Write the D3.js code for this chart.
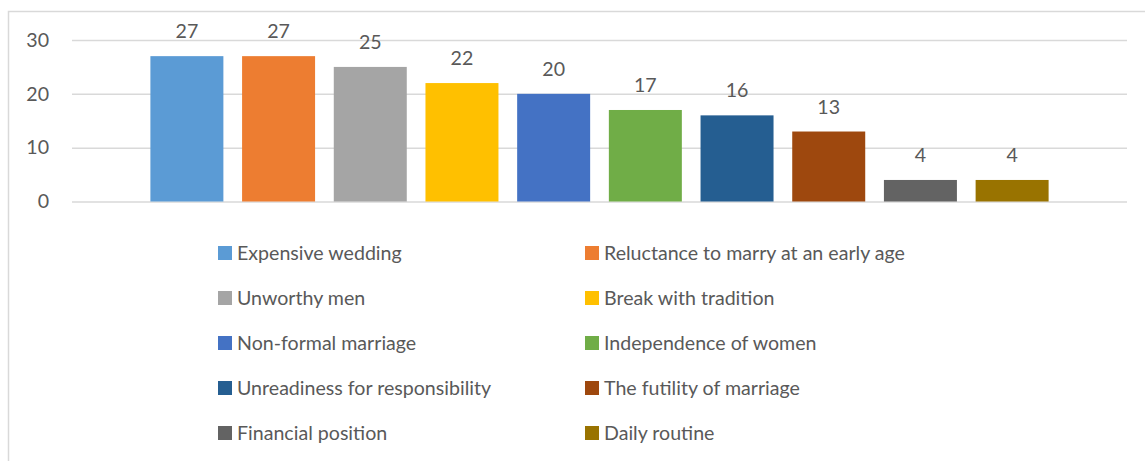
<!DOCTYPE html>
<html>
<head>
<meta charset="utf-8">
<script src="https://cdn.jsdelivr.net/npm/d3@7"></script>
<style>
  body { margin: 0; background: #fff; }
  text { font-family: Lato, "Open Sans", sans-serif; fill: #595959; }
</style>
</head>
<body>
<svg id="chart" width="1145" height="461"></svg>
<script>
// chart data
var categories = ["Expensive wedding", "Reluctance to marry at an early age", "Unworthy men",
  "Break with tradition", "Non-formal marriage", "Independence of women",
  "Unreadiness for responsibility", "The futility of marriage", "Financial position", "Daily routine"];
var values = [27, 27, 25, 22, 20, 17, 16, 13, 4, 4];
var colors = ["#5B9BD5", "#ED7D31", "#A5A5A5", "#FFC000", "#4472C4",
  "#70AD47", "#255E91", "#9E480E", "#636363", "#997300"];
var yTicks = [0, 10, 20, 30];

var fontSize = "19.6px";
var svg = d3.select("#chart");

// outer frame (top & left edge visible)
svg.append("path")
  .attr("d", "M8.5,461 V11.5 H1145")
  .attr("fill", "none")
  .attr("stroke", "#d9d9d9")
  .attr("stroke-width", 1.5);

var plotLeft = 72, plotRight = 1127, plotTop = 40, plotBottom = 201.5;

var x = d3.scaleBand()
  .domain(categories)
  .range([plotLeft, plotRight])
  .paddingInner(0.204)
  .paddingOuter(0.855);

var y = d3.scaleLinear()
  .domain([0, 30])
  .range([plotBottom, plotTop]);

// y axis + gridlines
var yAxis = svg.append("g")
  .attr("transform", "translate(" + plotLeft + ",0)")
  .call(d3.axisLeft(y).tickValues(yTicks).tickSize(-(plotRight - plotLeft)).tickPadding(23));
yAxis.select(".domain").remove();
yAxis.selectAll(".tick line").attr("stroke", "#d9d9d9").attr("stroke-width", 1.5);
yAxis.selectAll(".tick text")
  .style("font-family", "Lato, sans-serif")
  .style("font-size", fontSize)
  .attr("fill", "#595959");

// bars
svg.selectAll("rect.bar")
  .data(values)
  .enter().append("rect")
  .attr("class", "bar")
  .attr("x", function(d, i) { return x(categories[i]); })
  .attr("y", function(d) { return y(d); })
  .attr("width", x.bandwidth())
  .attr("height", function(d) { return y(0) - y(d); })
  .attr("fill", function(d, i) { return colors[i]; });

// value labels
svg.selectAll("text.val")
  .data(values)
  .enter().append("text")
  .attr("class", "val")
  .attr("x", function(d, i) { return x(categories[i]) + x.bandwidth() / 2; })
  .attr("y", function(d) { return y(d) - 18; })
  .attr("text-anchor", "middle")
  .style("font-size", fontSize)
  .text(function(d) { return d; });

// legend, two columns
var colX = [218, 585], rowY0 = 253, rowStep = 45;
var legend = svg.selectAll("g.leg")
  .data(categories)
  .enter().append("g")
  .attr("class", "leg")
  .attr("transform", function(d, i) {
    return "translate(" + colX[i % 2] + "," + (rowY0 + Math.floor(i / 2) * rowStep) + ")";
  });
legend.append("rect")
  .attr("x", 0)
  .attr("y", -7)
  .attr("width", 14)
  .attr("height", 14)
  .attr("fill", function(d, i) { return colors[i]; });
legend.append("text")
  .attr("x", 19)
  .attr("dy", "0.35em")
  .style("font-size", fontSize)
  .text(function(d) { return d; });
</script>
</body>
</html>
